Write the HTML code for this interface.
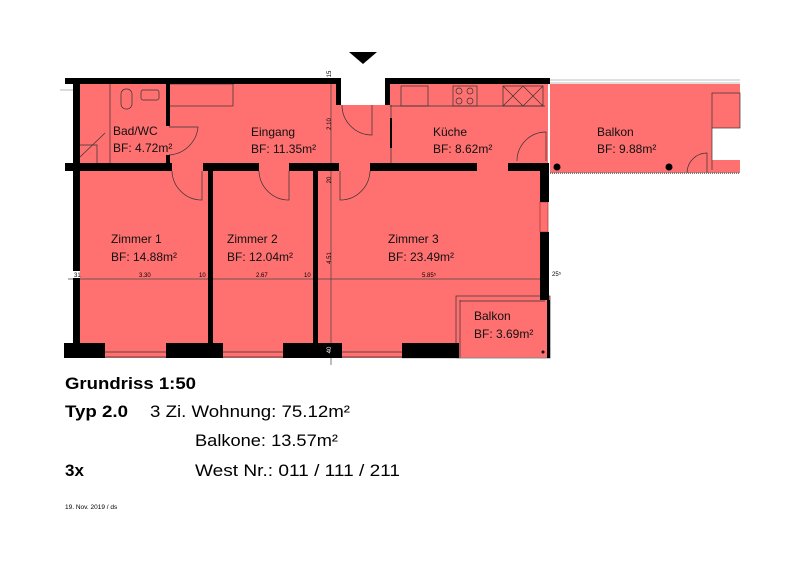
<!DOCTYPE html>
<html><head><meta charset="utf-8"><style>
html,body{margin:0;padding:0;background:#fff;}
svg{display:block;font-family:"Liberation Sans",sans-serif;}
</style></head><body>
<svg width="800" height="566" viewBox="0 0 800 566" xmlns="http://www.w3.org/2000/svg">
<!-- pink fills -->
<path d="M80 84 H341 V105 H386 V84 H548 V300 H540 V343 H80 Z" fill="#ff7070"/>
<rect x="550" y="84" width="190" height="89" fill="#ff7070"/>
<rect x="712" y="128" width="30" height="32" fill="#fff"/>
<rect x="456" y="296" width="94" height="62" fill="#ff7070"/>
<rect x="105" y="343" width="61" height="15" fill="#ff7070"/>
<rect x="223" y="343" width="60" height="15" fill="#ff7070"/>
<rect x="342" y="343" width="60" height="15" fill="#ff7070"/>
<!-- thin fixtures lines -->
<g fill="none" stroke="#333" stroke-width="0.7">
<line x1="60" y1="90" x2="74" y2="90" stroke="#999"/>
<line x1="110" y1="84" x2="110" y2="163"/>
<rect x="169" y="84" width="64" height="22"/>
<rect x="121" y="89" width="11" height="20" rx="5"/>
<rect x="141" y="90" width="18" height="10" rx="2"/>
<polyline points="80,145 97,145 97,163"/>
<line x1="80" y1="157" x2="105" y2="133"/>
<path d="M169 155 A31 31 0 0 0 198 127 H169"/>
<path d="M172 171 A30 30 0 0 0 202 200 V171"/>
<path d="M259 171 A30 30 0 0 0 289 200 V171"/>
<path d="M370 171 A30 30 0 0 1 340 200 V171"/>
<path d="M342 105 A30 30 0 0 0 372 135 V105"/>
<line x1="391" y1="105" x2="391" y2="165"/>
<line x1="390" y1="106" x2="545" y2="106"/>
<rect x="401" y="86" width="27" height="20"/>
<rect x="453" y="86" width="24" height="20"/>
<circle cx="459" cy="91" r="3"/><circle cx="470" cy="91" r="3"/>
<circle cx="459" cy="101" r="3"/><circle cx="470" cy="101" r="3"/>
<rect x="503" y="86" width="40" height="20"/>
<path d="M503 86 L523 106 M523 86 L503 106 M523 86 L543 106 M543 86 L523 106"/>
<path d="M517 161 A29 29 0 0 1 546 132 V161"/>
<path d="M687 173 A20 20 0 0 1 707 153 V173"/>
<rect x="712" y="93" width="28" height="35"/>
<line x1="712" y1="128" x2="712" y2="170"/>
<line x1="550" y1="80" x2="740" y2="80" stroke="#aaa"/>
<line x1="550" y1="83" x2="740" y2="83" stroke="#aaa"/>
<line x1="550" y1="173" x2="740" y2="173" stroke="#777" stroke-dasharray="1 1" stroke-width="2"/>
<rect x="540" y="202" width="8" height="30" stroke="#a33"/>
<rect x="456" y="296" width="94" height="62"/>
<line x1="460" y1="301" x2="545" y2="301"/>
<line x1="460" y1="300" x2="460" y2="358"/>
<!-- windows bottom -->
<line x1="105" y1="352" x2="166" y2="352"/><line x1="105" y1="357" x2="166" y2="357"/>
<line x1="223" y1="352" x2="283" y2="352"/><line x1="223" y1="357" x2="283" y2="357"/>
<line x1="342" y1="352" x2="402" y2="352"/><line x1="342" y1="357" x2="402" y2="357"/>
<line x1="402" y1="358" x2="550" y2="358" stroke="#999"/>
<!-- dimension lines -->
<line x1="68" y1="279" x2="548" y2="279" stroke="#444"/>
<line x1="331" y1="80" x2="331" y2="365" stroke="#444"/>
</g>
<!-- walls -->
<g fill="#000">
<rect x="65" y="78" width="276" height="6"/>
<rect x="336" y="78" width="5" height="27"/>
<rect x="385" y="78" width="165" height="6"/>
<rect x="385" y="78" width="5" height="27"/>
<rect x="73" y="78" width="7" height="280"/>
<rect x="65" y="163" width="107" height="8"/>
<rect x="203" y="163" width="56" height="8"/>
<rect x="289" y="163" width="50" height="8"/>
<rect x="370" y="163" width="107" height="8"/>
<rect x="508" y="163" width="41" height="8"/>
<rect x="166" y="84" width="4" height="42"/>
<rect x="166" y="155" width="4" height="9"/>
<rect x="390" y="118" width="2" height="30"/>
<rect x="208" y="163" width="5" height="183"/>
<rect x="313" y="163" width="5" height="183"/>
<rect x="540" y="163" width="9" height="39"/>
<rect x="540" y="232" width="9" height="68"/>
<rect x="547" y="300" width="3" height="58"/>
<rect x="64" y="343" width="41" height="15"/>
<rect x="166" y="343" width="57" height="15"/>
<rect x="283" y="343" width="59" height="15"/>
<rect x="402" y="343" width="57" height="15"/>
<circle cx="557" cy="167" r="3.5"/>
<circle cx="669" cy="167" r="3.5"/>
<circle cx="543" cy="352" r="1.5"/>
<polygon points="349,52 377,52 363,64"/>
</g>
<!-- dimension labels -->
<g font-size="6" fill="#000">
<rect x="73" y="271" width="7" height="7" fill="#fff"/><text x="74" y="277">31</text>
<text x="139" y="277">3.30</text>
<text x="199" y="277">10</text>
<text x="256" y="277">2.67</text>
<text x="304" y="277">10</text>
<text x="422" y="277">5.85⁵</text>
<text x="552" y="276">25⁵</text>
<text transform="translate(331,124) rotate(-90)" text-anchor="middle">2.10</text>
<text transform="translate(331,180) rotate(-90)" text-anchor="middle">20</text>
<text transform="translate(331,258) rotate(-90)" text-anchor="middle">4.51</text>
<text transform="translate(331,350) rotate(-90)" text-anchor="middle" fill="#fff">40</text>
<text transform="translate(331,74) rotate(-90)" text-anchor="middle">15</text>
</g>
<!-- room labels -->
<g font-size="12" fill="#111">
<text x="113" y="135">Bad/WC</text><text x="113" y="152">BF: 4.72m²</text>
<text x="251" y="136">Eingang</text><text x="251" y="153">BF: 11.35m²</text>
<text x="433" y="136">Küche</text><text x="433" y="153">BF: 8.62m²</text>
<text x="597" y="136">Balkon</text><text x="597" y="153">BF: 9.88m²</text>
<text x="111" y="243">Zimmer 1</text><text x="111" y="261">BF: 14.88m²</text>
<text x="227" y="243">Zimmer 2</text><text x="227" y="261">BF: 12.04m²</text>
<text x="388" y="243">Zimmer 3</text><text x="388" y="261">BF: 23.49m²</text>
<text x="474" y="320">Balkon</text><text x="474" y="338">BF: 3.69m²</text>
</g>
<!-- bottom text -->
<text x="65" y="389" font-size="17" font-weight="bold" textLength="131" lengthAdjust="spacingAndGlyphs">Grundriss 1:50</text>
<text x="65" y="417" font-size="17" font-weight="bold" textLength="63" lengthAdjust="spacingAndGlyphs">Typ 2.0</text>
<text x="150" y="417" font-size="17" textLength="200" lengthAdjust="spacingAndGlyphs">3 Zi. Wohnung: 75.12m²</text>
<text x="195" y="446" font-size="17" textLength="143" lengthAdjust="spacingAndGlyphs">Balkone: 13.57m²</text>
<text x="65" y="476" font-size="17" font-weight="bold">3x</text>
<text x="195" y="476" font-size="17" textLength="205" lengthAdjust="spacingAndGlyphs">West Nr.: 011 / 111 / 211</text>
<text x="65" y="509" font-size="6.5">19. Nov. 2019 / ds</text>
</svg>
</body></html>
